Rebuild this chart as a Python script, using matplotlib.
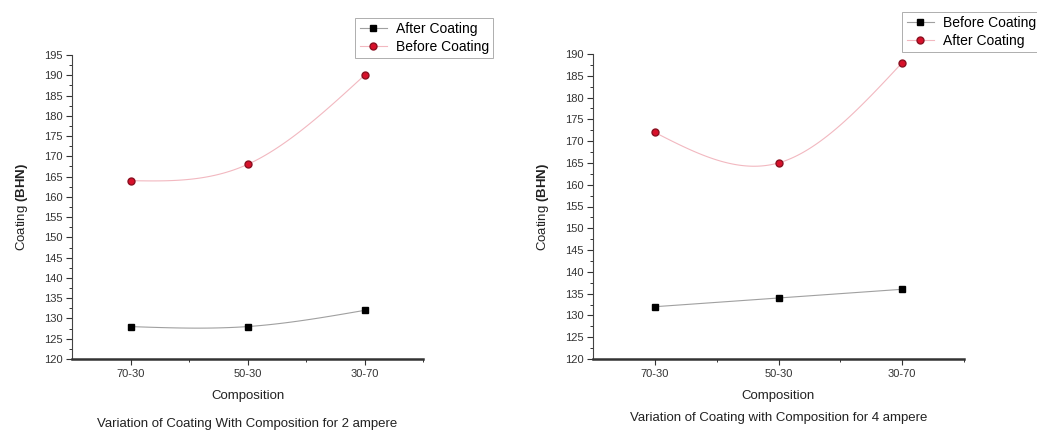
import numpy as np
import matplotlib
matplotlib.use("Agg")
import matplotlib.pyplot as plt
from matplotlib.ticker import MultipleLocator, FixedLocator

plt.rcParams['font.family'] = ['Liberation Sans', 'DejaVu Sans']
plt.rcParams['mathtext.fontset'] = 'custom'
plt.rcParams['mathtext.rm'] = 'Liberation Sans'
plt.rcParams['mathtext.bf'] = 'Liberation Sans:bold'

compositions = ["70-30", "50-30", "30-70"]

# 2 ampere panel
left_black = [128, 128, 132]   # labelled "After Coating"
left_red = [164, 168, 190]     # labelled "Before Coating"

# 4 ampere panel
right_black = [132, 134, 136]  # labelled "Before Coating"
right_red = [172, 165, 188]    # labelled "After Coating"


def natural_spline(y, n=60):
    # natural cubic spline through equally spaced points at x = 1..len(y)
    y = np.asarray(y, float)
    k = len(y)
    A = np.zeros((k, k))
    r = np.zeros(k)
    A[0, 0] = A[-1, -1] = 1
    for i in range(1, k - 1):
        A[i, i - 1], A[i, i], A[i, i + 1] = 1 / 6, 2 / 3, 1 / 6
        r[i] = y[i + 1] - 2 * y[i] + y[i - 1]
    M = np.linalg.solve(A, r)
    xs, ys = [], []
    for i in range(k - 1):
        t = np.linspace(0, 1, n)
        s = (y[i] * (1 - t) + y[i + 1] * t
             + M[i] / 6 * ((1 - t) ** 3 - (1 - t)) + M[i + 1] / 6 * (t ** 3 - t))
        xs.append(i + 1 + t)
        ys.append(s)
    return np.concatenate(xs), np.concatenate(ys)


fig = plt.figure(figsize=(10.37, 4.32), dpi=100)

BLACK_LINE = '#a0a0a0'
RED_LINE = '#f2b8c0'
RED = '#d8102a'
RED_EDGE = '#8a1020'


def panel(rect, black, red, black_label, red_label, ymax, legend_box, caption, caption_y):
    ax = fig.add_axes(rect)
    x = np.arange(1, len(compositions) + 1)
    bx, by = natural_spline(black)
    rx, ry = natural_spline(red)
    ax.plot(bx, by, color=BLACK_LINE, lw=0.8, zorder=2)
    ax.plot(rx, ry, color=RED_LINE, lw=0.8, zorder=2)
    hb, = ax.plot(x, black, 's', color='black', ms=4.5, zorder=3, label=black_label)
    hr, = ax.plot(x, red, 'o', color=RED, mec=RED_EDGE, ms=5, zorder=3, label=red_label)

    ax.set_xlim(0.5, 3.5)
    ax.set_ylim(120, ymax)
    ax.xaxis.set_major_locator(FixedLocator(x))
    ax.set_xticklabels(compositions)
    ax.xaxis.set_minor_locator(FixedLocator([1.5, 2.5, 3.5]))
    ax.yaxis.set_major_locator(MultipleLocator(5))
    ax.yaxis.set_minor_locator(MultipleLocator(2.5))
    for s in ('top', 'right'):
        ax.spines[s].set_visible(False)
    ax.spines['bottom'].set_linewidth(1.8)
    ax.spines['bottom'].set_color('#333333')
    ax.spines['left'].set_linewidth(0.8)
    ax.spines['left'].set_color('#444444')
    ax.tick_params(axis='both', which='major', labelsize=8, length=4, width=0.8,
                   colors='#333333', direction='out', pad=3)
    ax.tick_params(axis='both', which='minor', length=2.5, width=0.7, colors='#333333')
    ax.set_xlabel("Composition", fontsize=9.5, color='#222222', labelpad=8)
    ax.set_ylabel(r"Coating $\mathbf{(BHN)}$", fontsize=9.5, color='#222222', labelpad=10)

    # legend order follows the reference
    leg = ax.legend(handles=[hb, hr], loc='upper right',
                    bbox_to_anchor=legend_box, bbox_transform=fig.transFigure,
                    fontsize=10, frameon=True, fancybox=False, borderaxespad=0,
                    handlelength=2.0, handletextpad=0.6, borderpad=0.3,
                    labelspacing=0.25)
    leg.get_frame().set_edgecolor('#999999')
    leg.get_frame().set_linewidth(0.7)
    for h, c in zip(leg.legend_handles, [BLACK_LINE, RED_LINE]):
        h.set_linestyle('-')
        h.set_color(c)
        h.set_linewidth(0.8)
    leg.legend_handles[0].set_markerfacecolor('black')
    leg.legend_handles[0].set_markeredgecolor('black')
    leg.legend_handles[1].set_markerfacecolor(RED)
    leg.legend_handles[1].set_markeredgecolor(RED_EDGE)

    cx = rect[0] + rect[2] / 2
    fig.text(cx, caption_y, caption, ha='center', va='center', fontsize=9.5, color='#222222')
    return ax


panel([72 / 1037, 1 - 359 / 432, (423 - 72) / 1037, (359 - 55) / 432],
      left_black, left_red, "After Coating", "Before Coating", 195,
      (493 / 1037, 1 - 18 / 432),
      "Variation of Coating With Composition for 2 ampere", 1 - 424 / 432)

panel([593 / 1037, 1 - 359 / 432, (964 - 593) / 1037, (359 - 54) / 432],
      right_black, right_red, "Before Coating", "After Coating", 190,
      (1040 / 1037, 1 - 12 / 432),
      "Variation of Coating with Composition for 4 ampere", 1 - 418 / 432)

fig.savefig("out.png", dpi=100)
